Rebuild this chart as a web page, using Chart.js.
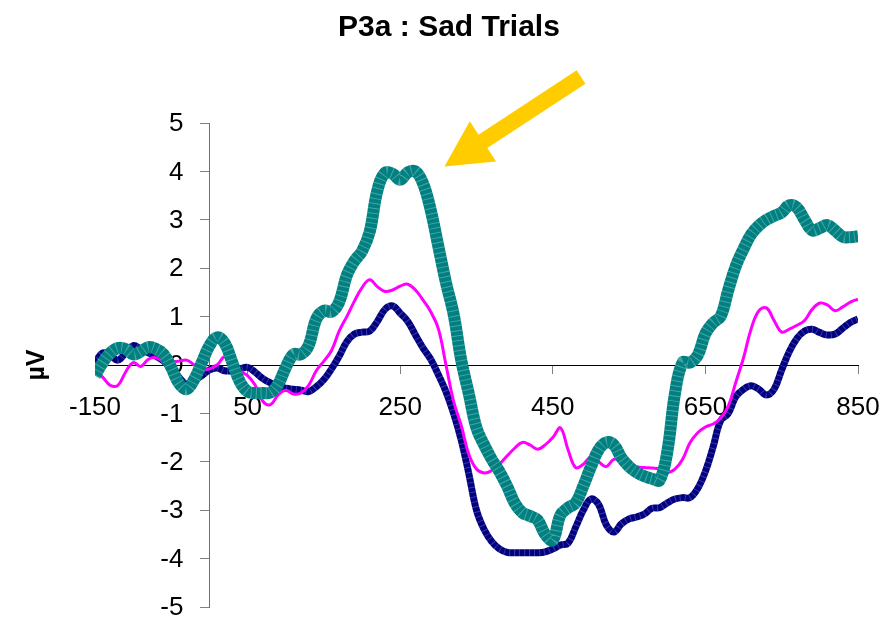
<!DOCTYPE html>
<html>
<head>
<meta charset="utf-8">
<title>P3a : Sad Trials</title>
<script src="https://cdn.jsdelivr.net/npm/chart.js@4.4.1/dist/chart.umd.min.js"></script>
<style>
  html, body { margin: 0; padding: 0; background: #fff; }
  #wrap { width: 892px; height: 618px; }
</style>
</head>
<body>
<div id="wrap"><canvas id="erpChart" width="892" height="618"></canvas></div>
<script>
// time axis in ms, one sample every 10 ms
const times = [
  -150, -140, -130, -120, -110, -100, -90, -80, -70, -60,
  -50, -40, -30, -20, -10, 0, 10, 20, 30, 40,
  50, 60, 70, 80, 90, 100, 110, 120, 130, 140,
  150, 160, 170, 180, 190, 200, 210, 220, 230, 240,
  250, 260, 270, 280, 290, 300, 310, 320, 330, 340,
  350, 360, 370, 380, 390, 400, 410, 420, 430, 440,
  450, 460, 470, 480, 490, 500, 510, 520, 530, 540,
  550, 560, 570, 580, 590, 600, 610, 620, 630, 640,
  650, 660, 670, 680, 690, 700, 710, 720, 730, 740,
  750, 760, 770, 780, 790, 800, 810, 820, 830, 840,
  850
];

// amplitudes in µV
const navyWave = [
  0.04, 0.25, 0.2, 0.1, 0.25, 0.4, 0.33, 0.25, 0.18, 0.08,
  -0.08, -0.25, -0.4, -0.32, -0.22, -0.1, -0.06, -0.12, -0.12, -0.08,
  -0.05, -0.15, -0.28, -0.37, -0.44, -0.48, -0.5, -0.52, -0.55, -0.45,
  -0.3, -0.08, 0.18, 0.48, 0.64, 0.68, 0.7, 0.9, 1.15, 1.22,
  1.07, 0.9, 0.62, 0.35, 0.12, -0.2, -0.55, -1.0, -1.55, -2.25,
  -3.0, -3.4, -3.65, -3.8, -3.87, -3.88, -3.88, -3.88, -3.88, -3.86,
  -3.8, -3.72, -3.68, -3.35, -3.0, -2.77, -2.88, -3.3, -3.45, -3.28,
  -3.18, -3.14, -3.08, -2.96, -2.95, -2.85, -2.77, -2.74, -2.74, -2.55,
  -2.2, -1.7, -1.15, -1.0, -0.65, -0.5, -0.43, -0.5, -0.62, -0.5,
  -0.1, 0.28, 0.55, 0.7, 0.74, 0.67, 0.62, 0.64, 0.76, 0.88,
  0.95
];

const magentaWave = [
  -0.1, -0.25, -0.42, -0.42, -0.15, 0.05, -0.03, 0.12, 0.15, 0.07,
  0.06, 0.08, 0.1, 0.0, -0.1, -0.08, 0.0, 0.17, 0.05, -0.12,
  -0.22, -0.42, -0.75, -0.82, -0.62, -0.52, -0.6, -0.58, -0.42, -0.12,
  0.08, 0.3, 0.7, 1.0, 1.32, 1.6, 1.76, 1.62, 1.52, 1.55,
  1.63, 1.67, 1.55, 1.34, 1.1, 0.75, 0.0, -0.75, -1.25, -1.85,
  -2.15, -2.23, -2.18, -2.05, -1.88, -1.72, -1.6, -1.65, -1.74, -1.65,
  -1.5, -1.3, -1.75, -2.12, -2.05, -1.9, -2.0, -2.1, -1.95, -1.98,
  -2.05, -2.1, -2.12, -2.13, -2.15, -2.22, -2.15, -1.95, -1.6, -1.4,
  -1.28, -1.22, -1.1, -0.85, -0.35, 0.15, 0.75, 1.12, 1.18, 0.92,
  0.68, 0.74, 0.82, 0.92, 1.15, 1.28, 1.24, 1.12, 1.2, 1.3,
  1.36
];

const tealWave = [
  -0.22, 0.05, 0.25, 0.35, 0.33, 0.22, 0.28, 0.37, 0.33, 0.22,
  -0.05, -0.38, -0.5, -0.3, 0.05, 0.4, 0.57, 0.45, 0.05, -0.35,
  -0.55, -0.58, -0.58, -0.57, -0.4, -0.05, 0.22, 0.22, 0.4, 0.95,
  1.12, 1.1, 1.3, 1.85, 2.15, 2.35, 2.75, 3.6, 3.97, 3.95,
  3.83, 3.98, 4.0, 3.75, 3.2, 2.45, 1.7, 1.05, 0.1, -0.6,
  -1.3, -1.65, -1.95, -2.2, -2.5, -2.85, -3.05, -3.12, -3.2, -3.5,
  -3.62, -3.1, -2.95, -2.85, -2.5, -2.1, -1.75, -1.6, -1.65, -1.92,
  -2.1, -2.22, -2.3, -2.35, -2.38, -1.8, -0.6, 0.05, 0.05, 0.2,
  0.65, 0.87, 1.0, 1.55, 2.05, 2.4, 2.7, 2.88, 3.0, 3.08,
  3.15, 3.3, 3.25, 3.0, 2.78, 2.83, 2.89, 2.78, 2.65, 2.64,
  2.66
];

const xTicks = [-150, 50, 250, 450, 650, 850];
const yTicks = [-5, -4, -3, -2, -1, 0, 1, 2, 3, 4, 5];

// arrow pointing at the P3a peak, in (ms, µV)
const arrowTip = [308, 4.1];
const arrowTail = [487, 5.95];

const FONT = "'Liberation Sans', Arial, sans-serif";
Chart.defaults.font.family = FONT;
Chart.defaults.color = '#000';

function toPoints(values) {
  return times.map((t, i) => ({ x: t, y: values[i] }));
}

// a trace plus a faint cross-hatch pass over the same points
function trace(values, color, width, hatch, order) {
  const sets = [{ data: toPoints(values), borderColor: color, borderWidth: width, order: order + 0.5 }];
  if (hatch) {
    sets.push({
      data: toPoints(values),
      borderColor: hatch,
      borderWidth: width,
      borderDash: [1, 4],
      order: order
    });
  }
  return sets;
}

// title centred on the whole canvas, µV label next to the value axis
const labels = {
  id: 'labels',
  afterDraw(chart) {
    const ctx = chart.ctx;
    ctx.save();
    ctx.fillStyle = '#000';
    ctx.textAlign = 'center';
    ctx.textBaseline = 'middle';
    ctx.font = 'bold 30px ' + FONT;
    ctx.fillText('P3a : Sad Trials', chart.width / 2 + 3, 28);
    ctx.translate(37, chart.scales.y.getPixelForValue(0));
    ctx.rotate(-Math.PI / 2);
    ctx.font = 'bold 25px ' + FONT;
    ctx.fillText('µV', 0, 0);
    ctx.restore();
  }
};

// value labels sit left of the axis that crosses at 0 ms
const yTickLabels = {
  id: 'yTickLabels',
  beforeDatasetsDraw(chart) {
    const { ctx, scales } = chart;
    const axisX = scales.x.getPixelForValue(0);
    ctx.save();
    ctx.fillStyle = '#000';
    ctx.font = '26px ' + FONT;
    ctx.textAlign = 'right';
    ctx.textBaseline = 'middle';
    scales.y.ticks.forEach(t => {
      ctx.fillText(String(t.value), axisX - 26, scales.y.getPixelForValue(t.value) + 1);
    });
    ctx.restore();
  }
};

const arrow = {
  id: 'arrow',
  afterDatasetsDraw(chart) {
    const { ctx, scales } = chart;
    const tx = scales.x.getPixelForValue(arrowTip[0]);
    const ty = scales.y.getPixelForValue(arrowTip[1]);
    const sx = scales.x.getPixelForValue(arrowTail[0]);
    const sy = scales.y.getPixelForValue(arrowTail[1]);
    const len = Math.hypot(tx - sx, ty - sy);
    const ux = (tx - sx) / len, uy = (ty - sy) / len;
    const px = -uy, py = ux;
    const shaft = 8, head = 24, headLen = 46;
    const bx = tx - ux * headLen, by = ty - uy * headLen;
    ctx.save();
    ctx.fillStyle = '#FFCC00';
    ctx.beginPath();
    ctx.moveTo(sx + px * shaft, sy + py * shaft);
    ctx.lineTo(bx + px * shaft, by + py * shaft);
    ctx.lineTo(bx + px * head, by + py * head);
    ctx.lineTo(tx, ty);
    ctx.lineTo(bx - px * head, by - py * head);
    ctx.lineTo(bx - px * shaft, by - py * shaft);
    ctx.lineTo(sx - px * shaft, sy - py * shaft);
    ctx.closePath();
    ctx.fill();
    ctx.restore();
  }
};

new Chart(document.getElementById('erpChart'), {
  type: 'line',
  data: {
    datasets: [
      ...trace(tealWave, '#008080', 12, 'rgba(255,255,255,0.28)', 1),
      ...trace(magentaWave, '#FF00FF', 3, null, 2),
      ...trace(navyWave, '#000080', 7, 'rgba(255,255,255,0.22)', 3)
    ]
  },
  options: {
    responsive: false,
    animation: false,
    events: [],
    elements: {
      point: { radius: 0 },
      line: { tension: 0.4, borderCapStyle: 'butt', fill: false }
    },
    layout: { padding: { left: 95, right: 34, top: 123, bottom: 11 } },
    plugins: {
      legend: { display: false },
      tooltip: { enabled: false },
      title: { display: false }
    },
    scales: {
      x: {
        type: 'linear',
        min: -150,
        max: 850,
        position: { y: 0 },
        afterBuildTicks: s => { s.ticks = xTicks.map(v => ({ value: v })); },
        afterFit: s => { s.paddingLeft = 0; s.paddingRight = 0; },
        grid: { drawOnChartArea: false, drawTicks: true, tickLength: 8, tickColor: '#808080' },
        border: { display: true, color: '#000', width: 1 },
        ticks: { font: { size: 26 }, padding: 19, maxRotation: 0, autoSkip: false }
      },
      y: {
        type: 'linear',
        min: -5,
        max: 5,
        position: { x: 0 },
        afterBuildTicks: s => { s.ticks = yTicks.map(v => ({ value: v })); },
        afterFit: s => { s.paddingTop = 0; s.paddingBottom = 0; },
        grid: { drawOnChartArea: false, drawTicks: true, tickLength: 9, tickColor: '#808080' },
        border: { display: true, color: '#707070', width: 1 },
        ticks: { display: false }
      }
    }
  },
  plugins: [labels, yTickLabels, arrow]
});
</script>
</body>
</html>
